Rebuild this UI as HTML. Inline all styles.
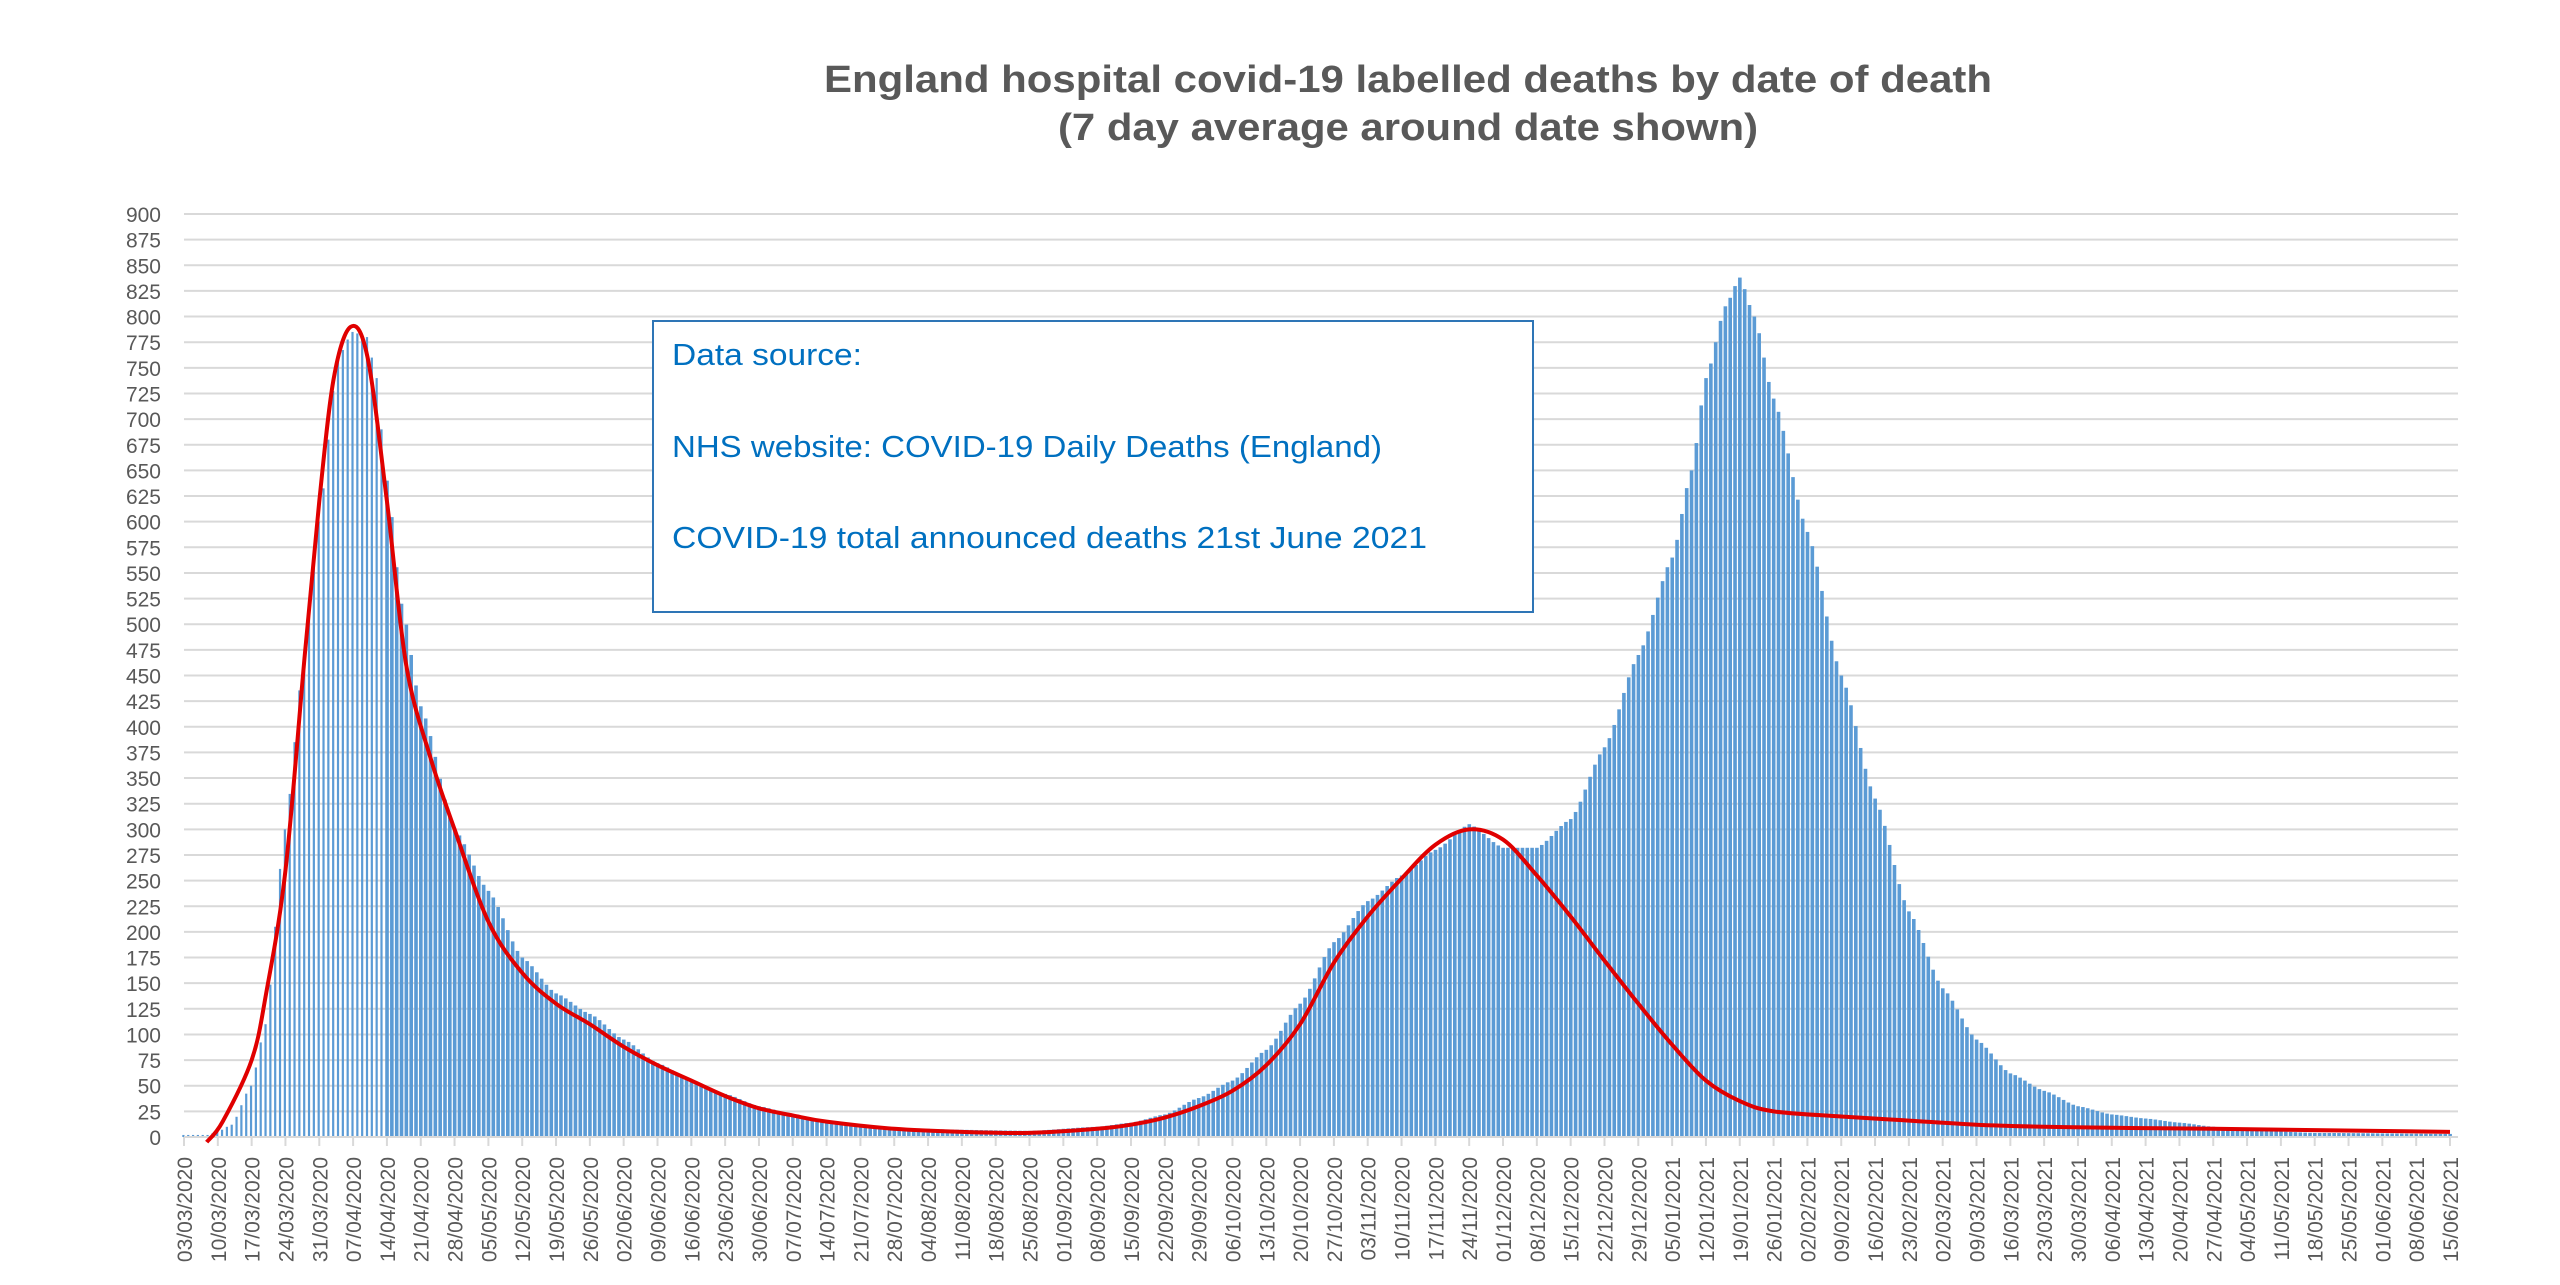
<!DOCTYPE html>
<html><head><meta charset="utf-8"><style>
html,body{margin:0;padding:0;background:#fff;}
svg{display:block;}
</style></head><body>
<svg id="s" width="2560" height="1285" xmlns="http://www.w3.org/2000/svg">
<rect width="2560" height="1285" fill="#fff"/>
<text x="1408" y="92" text-anchor="middle" font-family="Liberation Sans, sans-serif" font-weight="bold" font-size="38" fill="#595959" textLength="1168" lengthAdjust="spacingAndGlyphs">England hospital covid-19 labelled deaths by date of death</text>
<text x="1408" y="140" text-anchor="middle" font-family="Liberation Sans, sans-serif" font-weight="bold" font-size="38" fill="#595959" textLength="700" lengthAdjust="spacingAndGlyphs">(7 day average around date shown)</text>
<g id="grid"></g>
<g id="bars"></g>
<g id="xax"></g>
<path id="red" fill="none" stroke="#E00000" stroke-width="4"/>
<rect x="653" y="321" width="880" height="291" fill="#fff" stroke="#2E75B6" stroke-width="2"/>
<g font-family="Liberation Sans, sans-serif" font-size="31" fill="#0070C0">
<text x="672" y="365" textLength="190" lengthAdjust="spacingAndGlyphs">Data source:</text>
<text x="672" y="457" textLength="710" lengthAdjust="spacingAndGlyphs">NHS website: COVID-19 Daily Deaths (England)</text>
<text x="672" y="548" textLength="755" lengthAdjust="spacingAndGlyphs">COVID-19 total announced deaths 21st June 2021</text>
</g>
</svg>
<script>
const NS="http://www.w3.org/2000/svg";
const X0=184, DX=(2450-184)/469, Y0=1137, K=(1137-214)/900;
const X=d=>X0+d*DX, Y=v=>Y0-v*K;
function el(p,t,a,txt){const e=document.createElementNS(NS,t);for(const k in a)e.setAttribute(k,a[k]);if(txt!==undefined)e.textContent=txt;p.appendChild(e);return e;}
const g=document.getElementById('grid');
for(let v=0;v<=900;v+=25){
  el(g,'line',{x1:184,x2:2458,y1:Y(v),y2:Y(v),stroke:'#D9D9D9','stroke-width':2});
  el(g,'text',{x:161,y:Y(v)+8,'text-anchor':'end','font-family':'Liberation Sans, sans-serif','font-size':21,fill:'#595959'},v);
}
function interp(pts,d){
  for(let i=0;i<pts.length-1;i++){const [a,va]=pts[i],[b,vb]=pts[i+1];
    if(d>=a&&d<=b){const t=(d-a)/(b-a);const s=t*t*(3-2*t);return va+(vb-va)*(0.5*t+0.5*s);}}
  return pts[pts.length-1][1];
}
const bp=[[0,2],[5,2],[7,5],[10,12],[14,50],[17,110],[21,300],[25,470],[28,600],[32,760],[35,785],[38,780],[40,740],[42,640],[45,520],[49,420],[56,300],[63,240],[70,175],[77,140],[84,120],[91,95],[98,72],[105,55],[112,42],[119,30],[126,22],[133,15],[147,9],[161,7],[175,6],[189,10],[196,14],[203,22],[210,38],[217,55],[224,85],[231,130],[238,190],[245,230],[252,255],[259,280],[266,305],[273,282],[280,282],[287,310],[294,380],[301,470],[308,565],[312,650],[315,740],[319,810],[322,838],[325,800],[329,720],[336,590],[343,450],[350,330],[357,220],[364,145],[371,95],[378,62],[385,45],[392,30],[399,22],[406,18],[413,14],[420,10],[427,7],[441,4],[469,3]];
const b=document.getElementById('bars');
for(let d=0;d<=469;d++){const v=interp(bp,d);
  el(b,'rect',{x:X(d)-1.7,y:Y(v),width:d<42?2.2:3.6,height:v*K,fill:'#5B9BD5'});}
const xa=document.getElementById('xax');
el(xa,'line',{x1:184,x2:2458,y1:Y0,y2:Y0,stroke:'#D9D9D9','stroke-width':2});
const start=new Date(Date.UTC(2020,2,3));
for(let w=0;w<=67;w++){const d=w*7;const x=X(d);
  el(xa,'line',{x1:x,x2:x,y1:Y0,y2:Y0+9,stroke:'#D9D9D9','stroke-width':2});
  const dt=new Date(start.getTime()+d*86400000);
  const s=String(dt.getUTCDate()).padStart(2,'0')+'/'+String(dt.getUTCMonth()+1).padStart(2,'0')+'/'+dt.getUTCFullYear();
  el(xa,'text',{x:0,y:0,transform:`translate(${x+8},1157) rotate(-90)`,'text-anchor':'end','font-family':'Liberation Sans, sans-serif','font-size':21,fill:'#595959'},s);
}
const rp=[[4.7,-5],[8,15],[14,75],[17,140],[21,260],[25,470],[28,620],[31,740],[34.5,790],[38,760],[42,620],[46,460],[51,370],[56,300],[63,210],[70,160],[77,130],[84,110],[91,88],[98,70],[105,55],[112,40],[119,28],[126,21],[133,15],[147,8],[161,5],[175,4],[189,8],[196,12],[203,19],[210,30],[217,45],[224,70],[231,110],[238,170],[245,215],[252,252],[259,285],[266,300],[273,290],[280,255],[287,215],[294,172],[301,130],[308,90],[315,55],[322,35],[329,25],[343,20],[357,16],[371,12],[385,10],[399,9],[420,8],[469,5]];
function cr(p){let s=`M${X(p[0][0])},${Y(p[0][1])}`;
  for(let i=0;i<p.length-1;i++){const p0=p[Math.max(0,i-1)],p1=p[i],p2=p[i+1],p3=p[Math.min(p.length-1,i+2)];
    const P=q=>[X(q[0]),Y(q[1])];const a=P(p0),b1=P(p1),c=P(p2),d=P(p3);
    const c1=[b1[0]+(c[0]-a[0])/6,b1[1]+(c[1]-a[1])/6],c2=[c[0]-(d[0]-b1[0])/6,c[1]-(d[1]-b1[1])/6];
    s+=` C${c1[0]},${c1[1]} ${c2[0]},${c2[1]} ${c[0]},${c[1]}`;}
  return s;}
document.getElementById('red').setAttribute('d',cr(rp));
</script>
</body></html>
